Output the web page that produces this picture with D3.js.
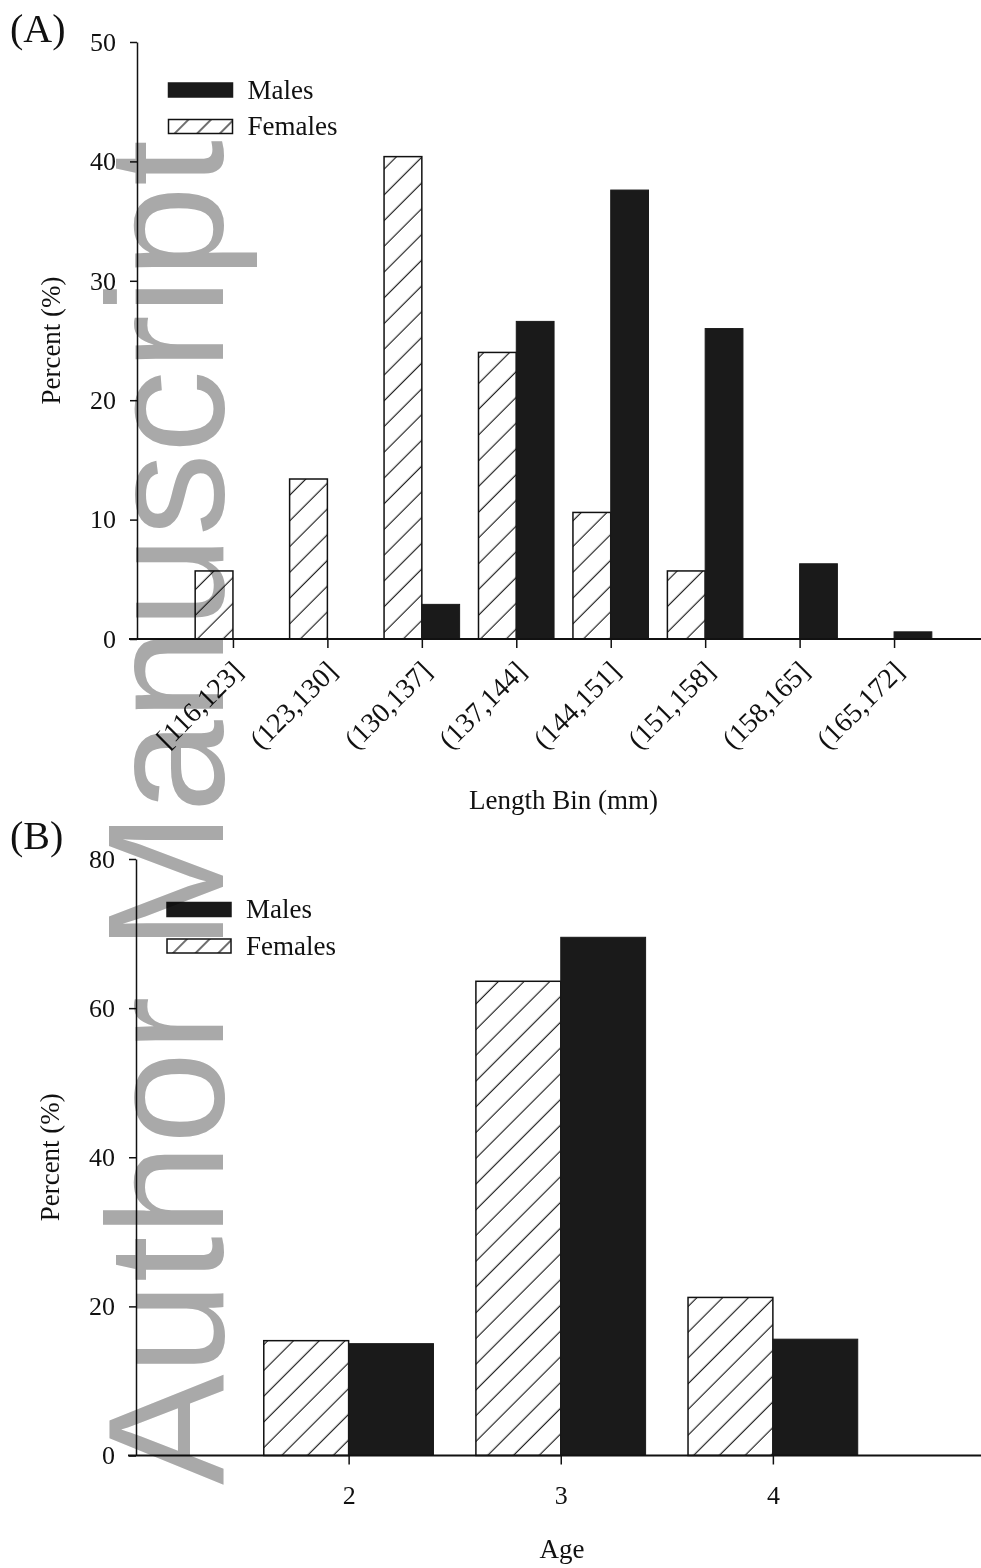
<!DOCTYPE html>
<html>
<head>
<meta charset="utf-8">
<script src="https://cdn.jsdelivr.net/npm/d3@7/dist/d3.min.js"></script>
<style>
  html, body { margin: 0; padding: 0; background: #fff; }
  svg { display: block; }
  .wm { mix-blend-mode: multiply; }
</style>
</head>
<body>
<svg id="chart" width="981" height="1568"></svg>
<script>
// ---------- data ----------
const lengthBins = ["[116,123]", "(123,130]", "(130,137]", "(137,144]", "(144,151]", "(151,158]", "(158,165]", "(165,172]"];
const lengthFemales = [5.7, 13.4, 40.4, 24.0, 10.6, 5.7, 0, 0];
const lengthMales   = [0, 0, 2.9, 26.6, 37.6, 26.0, 6.3, 0.6];
const yTicksA = [0, 10, 20, 30, 40, 50];

const ages = [2, 3, 4];
const ageFemales = [15.4, 63.6, 21.2];
const ageMales   = [15.0, 69.5, 15.6];
const yTicksB = [0, 20, 40, 60, 80];

const seriesNames = ["Males", "Females"];

// ---------- setup ----------
const W = 981, H = 1568;
const svg = d3.select("#chart");
const FONT = "'Liberation Serif', 'Times New Roman', serif";
const INK = "#111";
const BAR = "#1a1a1a";

const defs = svg.append("defs");
defs.append("pattern")
  .attr("id", "hatch")
  .attr("patternUnits", "userSpaceOnUse")
  .attr("width", 18.2).attr("height", 18.2)
  .attr("patternTransform", "rotate(45)")
  .call(p => {
    p.append("rect").attr("width", 18.2).attr("height", 18.2).attr("fill", "#fff");
    p.append("line").attr("x1", 9).attr("x2", 9).attr("y1", 0).attr("y2", 18.2)
      .attr("stroke", "#222").attr("stroke-width", 1.2);
  });
defs.append("pattern")
  .attr("id", "hatchLegend")
  .attr("patternUnits", "userSpaceOnUse")
  .attr("width", 16).attr("height", 16)
  .attr("patternTransform", "rotate(45)")
  .call(p => {
    p.append("rect").attr("width", 16).attr("height", 16).attr("fill", "#fff");
    p.append("line").attr("x1", 8).attr("x2", 8).attr("y1", 0).attr("y2", 16)
      .attr("stroke", "#222").attr("stroke-width", 1.3);
  });

svg.append("rect").attr("width", W).attr("height", H).attr("fill", "#fff");

function panel(cfg) {
  const g = svg.append("g");
  const x = d3.scaleLinear().domain(cfg.xDomain).range(cfg.xRange);
  const y = d3.scaleLinear().domain(cfg.yDomain).range(cfg.yRange);
  const bw = x(cfg.xDomain[0] + cfg.barUnits) - x(cfg.xDomain[0]);

  // bars
  const rows = cfg.cats.map((c, i) => ({ pos: cfg.catPos[i], f: cfg.fem[i], m: cfg.mal[i] }));
  g.selectAll("rect.fem").data(rows.filter(d => d.f > 0)).join("rect")
    .attr("class", "fem")
    .attr("x", d => x(d.pos) - bw).attr("width", bw)
    .attr("y", d => y(d.f)).attr("height", d => y(0) - y(d.f))
    .attr("fill", "url(#hatch)").attr("stroke", INK).attr("stroke-width", 1.5);
  g.selectAll("rect.mal").data(rows.filter(d => d.m > 0)).join("rect")
    .attr("class", "mal")
    .attr("x", d => x(d.pos)).attr("width", bw)
    .attr("y", d => y(d.m)).attr("height", d => y(0) - y(d.m))
    .attr("fill", BAR).attr("stroke", BAR).attr("stroke-width", 1);

  // y axis
  const yAxis = g.append("g")
    .attr("transform", `translate(${cfg.axisX},0)`)
    .call(d3.axisLeft(y).tickValues(cfg.yTicks).tickSize(7).tickSizeOuter(0).tickPadding(14));
  yAxis.select(".domain").attr("stroke", INK).attr("stroke-width", 1.5);
  yAxis.selectAll(".tick line").attr("stroke", INK).attr("stroke-width", 1.5);
  yAxis.selectAll(".tick text").attr("font-family", FONT).attr("font-size", 26).attr("fill", INK);

  // x axis
  const xAxis = g.append("g")
    .attr("transform", `translate(0,${y(0)})`)
    .call(d3.axisBottom(x).tickValues(cfg.catPos).tickSize(9).tickFormat((d, i) => cfg.cats[i]));
  xAxis.select(".domain").remove();
  xAxis.append("line").attr("x1", cfg.axisX - 8).attr("x2", W).attr("y1", 0).attr("y2", 0)
    .attr("stroke", INK).attr("stroke-width", 2);
  xAxis.selectAll(".tick line").attr("stroke", INK).attr("stroke-width", 1.5);
  const tt = xAxis.selectAll(".tick text").attr("font-family", FONT).attr("fill", INK);
  if (cfg.rotate) {
    tt.attr("font-size", 28).attr("text-anchor", "end").attr("dy", null).attr("y", null)
      .attr("transform", "translate(11,34) rotate(-45)");
  } else {
    tt.attr("font-size", 26).attr("y", 30).attr("dy", "0.71em");
  }

  // axis titles
  g.append("text")
    .attr("x", cfg.xTitlePos[0]).attr("y", cfg.xTitlePos[1])
    .attr("text-anchor", "middle").attr("font-family", FONT).attr("font-size", 27).attr("fill", INK)
    .text(cfg.xTitle);
  g.append("text")
    .attr("transform", `translate(${cfg.yTitleX},${(y.range()[0] + y.range()[1]) / 2}) rotate(-90)`)
    .attr("text-anchor", "middle").attr("font-family", FONT).attr("font-size", 27).attr("fill", INK)
    .text("Percent (%)");

  // panel letter
  g.append("text").attr("x", 10).attr("y", cfg.letterY)
    .attr("font-family", FONT).attr("font-size", 40).attr("fill", INK).text(cfg.letter);

  // legend
  const lg = g.append("g").attr("transform", `translate(${cfg.legend[0]},${cfg.legend[1]})`);
  seriesNames.forEach((s, i) => {
    const yy = i * 36.5;
    lg.append("rect").attr("x", 0).attr("y", yy).attr("width", 64).attr("height", 14)
      .attr("fill", i === 0 ? BAR : "url(#hatchLegend)")
      .attr("stroke", i === 0 ? BAR : INK).attr("stroke-width", 1.5);
    lg.append("text").attr("x", 79).attr("y", yy + 15.5)
      .attr("font-family", FONT).attr("font-size", 27).attr("fill", INK).text(s);
  });
}

panel({
  cats: lengthBins, catPos: lengthBins.map((d, i) => i + 1),
  fem: lengthFemales, mal: lengthMales,
  xDomain: [0, 9], xRange: [138.5, 988.5], barUnits: 0.4,
  yDomain: [0, 50], yRange: [639, 42], yTicks: yTicksA,
  axisX: 137, rotate: true,
  xTitle: "Length Bin (mm)", xTitlePos: [563.5, 809], yTitleX: 60,
  letter: "(A)", letterY: 42, legend: [168.5, 83]
});

panel({
  cats: ages.map(String), catPos: ages,
  fem: ageFemales, mal: ageMales,
  xDomain: [1, 5], xRange: [136.5, 985], barUnits: 0.4,
  yDomain: [0, 80], yRange: [1455.5, 859], yTicks: yTicksB,
  axisX: 136, rotate: false,
  xTitle: "Age", xTitlePos: [562, 1558], yTitleX: 59,
  letter: "(B)", letterY: 849, legend: [167, 902.5]
});

// watermark
svg.append("text").attr("class", "wm")
  .attr("transform", "translate(223,1485) rotate(-90)")
  .attr("font-family", "'Liberation Sans', Arial, sans-serif")
  .attr("font-size", 166)
  .attr("fill", "#a9a9a9")
  .attr("textLength", 1345).attr("lengthAdjust", "spacingAndGlyphs")
  .text("Author Manuscript");
</script>
</body>
</html>
